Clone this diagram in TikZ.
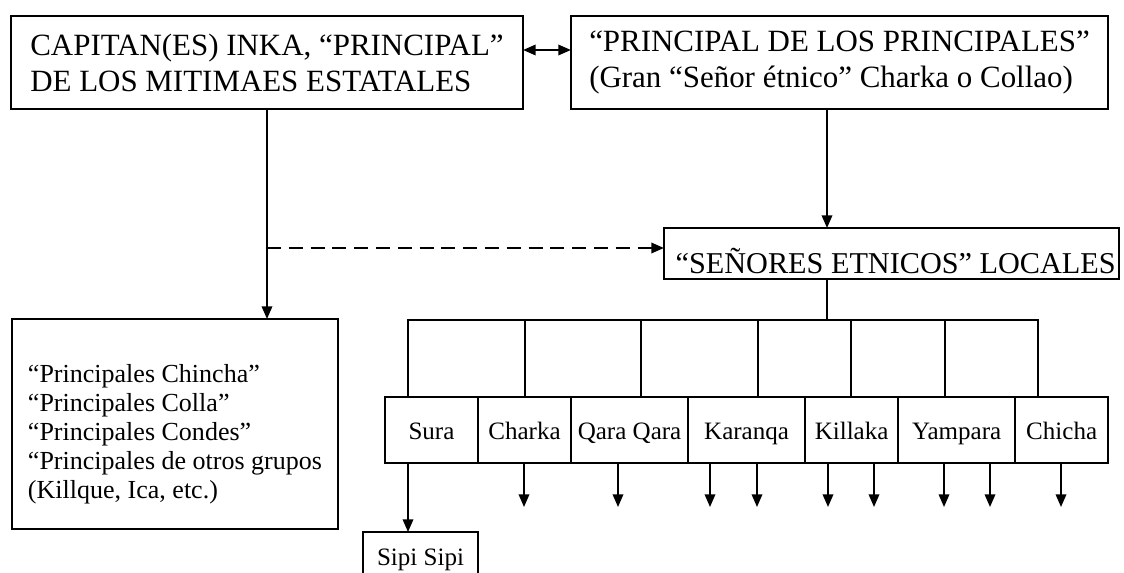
\documentclass[tikz,border=0pt]{standalone}
\usepackage{fontspec}
\setmainfont{Liberation Serif}
\usetikzlibrary{arrows.meta, positioning}
\tikzstyle{bigbox} = [rectangle, draw=black, line width=1.2pt, inner sep=0pt, outer sep=0pt, align=left, font=\fontsize{22pt}{25.6pt}\selectfont]
\tikzstyle{listbox} = [rectangle, draw=black, line width=1.2pt, inner sep=0pt, outer sep=0pt, align=left, font=\fontsize{18.5pt}{20.6pt}\selectfont]
\tikzstyle{group} = [rectangle, draw=black, line width=1.2pt, inner sep=0pt, outer sep=0pt, minimum height=1.65cm, text height=0.45cm, text depth=0cm, font=\fontsize{17.8pt}{20pt}\selectfont]
\tikzstyle{arrow} = [line width=1.2pt,->,>={Triangle[length=9pt,width=7.5pt]}]
\tikzstyle{line} = [line width=1.2pt]
\begin{document}
\begin{tikzpicture}[x=0.025cm, y=-0.025cm, node distance=0pt]
	\useasboundingbox (0,0) rectangle (1124,572);
	\clip (0,0) rectangle (1124,572);
	% upper boxes
	\node (capitan) [bigbox, minimum width=12.8cm, minimum height=2.325cm] at (267,62.5) {CAPITAN(ES) INKA, “PRINCIPAL”\\DE LOS MITIMAES ESTATALES};
	\node (principal) [bigbox, minimum width=13.425cm, minimum height=2.325cm] at (839.5,62.5) {“PRINCIPAL DE LOS PRINCIPALES”\\(Gran “Señor étnico” Charka o Collao)};
	\node (senores) [bigbox, font=\fontsize{21.5pt}{24pt}\selectfont, minimum width=11.375cm, text height=1.125cm, text depth=0.15cm] at (891.5,253.5) {\hspace{6pt}“SEÑORES ETNICOS” LOCALES};
	\node (mitimaes) [listbox, minimum width=8.15cm, minimum height=5.25cm] at (175,424) {\rule{0pt}{28pt}“Principales Chincha”\\“Principales Colla”\\“Principales Condes”\\“Principales de otros grupos\\(Killque, Ica, etc.)};
	% ethnic groups
	\node (sura) [group, minimum width=2.325cm] at (431.5,430) {Sura};
	\node (charka) [group, minimum width=2.325cm, right=of sura] {Charka};
	\node (qara) [group, minimum width=2.925cm, right=of charka] {Qara Qara};
	\node (karanqa) [group, minimum width=2.925cm, right=of qara] {Karanqa};
	\node (killaka) [group, minimum width=2.325cm, right=of karanqa] {Killaka};
	\node (yampara) [group, minimum width=2.925cm, right=of killaka] {Yampara};
	\node (chicha) [group, minimum width=2.325cm, right=of yampara] {Chicha};
	\node (sipi) [group, minimum width=2.875cm, minimum height=1.2cm] at (420.5,556) {Sipi Sipi};
	% connectors
	\coordinate (m) at (0,50);
	\draw [arrow, <->] (capitan.east |- m) -- (principal.west |- m);
	\draw [arrow] (capitan.south) -- (capitan.south |- mitimaes.north);
	\coordinate (d) at (267,248);
	\draw [arrow, dash pattern=on 10pt off 5.5pt] (d) -- (d -| senores.west);
	\coordinate (split) at (827,320);
	\draw [arrow] (principal.south -| split) -- (senores.north -| split);
	\draw [line] (senores.south -| split) -- (split);
	\draw [line] (408,397) -- (408,320) -- (1038,320) -- (1038,397);
	\foreach \x in {525,641,758,851,945}
		\draw [line] (\x,320) -- (\x,397);
	\foreach \x in {524,618,710,757,828,874,944,990,1061}
		\draw [arrow] (\x,463) -- (\x,507);
	\coordinate (s) at (408,0);
	\draw [arrow] (sura.south -| s) -- (sipi.north -| s);
\end{tikzpicture}
\end{document}
